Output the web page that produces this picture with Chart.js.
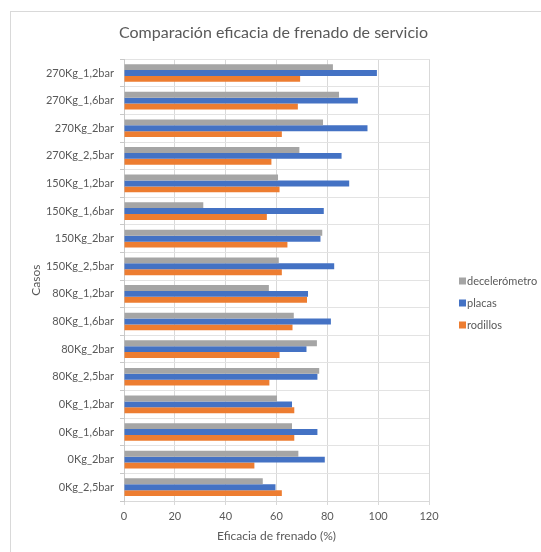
<!DOCTYPE html>
<html>
<head>
<meta charset="utf-8">
<script src="https://cdn.jsdelivr.net/npm/chart.js@4"></script>
<style>
  html, body { margin: 0; padding: 0; background: #fff; }
  #wrap { position: relative; width: 541px; height: 552px; }
  #frame { position: absolute; left: 10px; top: 11px; width: 540px; height: 545px; border: 1px solid #D9D9D9; box-sizing: border-box; }
  canvas { position: absolute; left: 0; top: 0; }
</style>
</head>
<body>
<div id="wrap">
  <div id="frame"></div>
  <canvas id="brakeChart" width="541" height="552"></canvas>
</div>
<script>
// casos, de arriba hacia abajo
const casos = [
    '270Kg_1,2bar', '270Kg_1,6bar', '270Kg_2bar', '270Kg_2,5bar',
    '150Kg_1,2bar', '150Kg_1,6bar', '150Kg_2bar', '150Kg_2,5bar',
    '80Kg_1,2bar', '80Kg_1,6bar', '80Kg_2bar', '80Kg_2,5bar',
    '0Kg_1,2bar', '0Kg_1,6bar', '0Kg_2bar', '0Kg_2,5bar'
];

const decelerometro = [82.2, 84.6, 78.3, 69.0, 60.6, 31.2, 78.0, 60.9, 57.0, 66.8, 75.9, 76.8, 60.2, 66.1, 68.6, 54.6];
const placas        = [99.5, 92.0, 95.8, 85.6, 88.6, 78.6, 77.3, 82.7, 72.4, 81.4, 71.8, 76.1, 66.1, 76.1, 79.0, 59.6];
const rodillos      = [69.3, 68.4, 62.1, 58.0, 61.2, 56.2, 64.3, 62.1, 72.0, 66.3, 61.2, 57.2, 67.0, 67.0, 51.3, 62.1];

const xTicks = [0, 20, 40, 60, 80, 100, 120];

const fontFamily = 'Lato, "Open Sans", sans-serif';
const textColor = '#595959';

// leyenda a la derecha, como en Excel
const sideLegend = {
    id: 'sideLegend',
    afterDraw(chart) {
        const ctx = chart.ctx;
        ctx.save();
        ctx.font = '11px ' + fontFamily;
        ctx.textBaseline = 'middle';
        chart.data.datasets.forEach(function(ds, i) {
            const y = 281 + i * 22;
            ctx.fillStyle = ds.backgroundColor;
            ctx.fillRect(459, y - 3.5, 7, 7);
            ctx.fillStyle = textColor;
            ctx.fillText(ds.label, 467, y);
        });
        ctx.restore();
    }
};

document.addEventListener('DOMContentLoaded', function() {
    const ctx = document.getElementById('brakeChart').getContext('2d');

    const chartData = {
        labels: casos,
        datasets: [
            { label: 'decelerómetro', data: decelerometro, backgroundColor: '#A5A5A5' },
            { label: 'placas', data: placas, backgroundColor: '#4472C4' },
            { label: 'rodillos', data: rodillos, backgroundColor: '#ED7D31' },
        ],
    };

    const chartOptions = {
        indexAxis: 'y',
        responsive: false,
        animation: false,
        datasets: {
            bar: { categoryPercentage: 0.64, barPercentage: 1.0 }
        },
        layout: { padding: { left: 6, right: 0, top: 0, bottom: 9 } },
        plugins: {
            legend: { display: false },
            tooltip: { enabled: false },
            title: {
                display: true,
                text: 'Comparación eficacia de frenado de servicio',
                color: textColor,
                font: { family: fontFamily, size: 16, weight: 'normal' },
                padding: { top: 23, bottom: 17 },
            },
        },
        scales: {
            x: {
                min: 0,
                max: 120,
                afterBuildTicks: function(scale) {
                    scale.ticks = xTicks.map(function(v) { return { value: v }; });
                },
                afterFit: function(scale) { scale.height = 42; },
                grid: { color: '#D9D9D9', tickLength: 4, drawTicks: true },
                border: { color: '#D9D9D9' },
                ticks: { color: textColor, padding: 5, font: { family: fontFamily, size: 11 } },
                title: {
                    display: true,
                    text: 'Eficacia de frenado (%)',
                    color: textColor,
                    font: { family: fontFamily, size: 12 },
                    padding: { top: 0, bottom: 0 },
                },
            },
            y: {
                afterFit: function(scale) { scale.width = 118; },
                grid: { color: '#E3E3E3', tickLength: 4, tickColor: '#C8C8C8', offset: true },
                border: { color: '#C8C8C8' },
                ticks: { color: textColor, padding: 6, autoSkip: false, font: { family: fontFamily, size: 11 } },
                title: {
                    display: true,
                    text: 'Casos',
                    color: textColor,
                    font: { family: fontFamily, size: 12 },
                    padding: { top: 23, bottom: 0 },
                },
            },
            // espacio vacío a la derecha para la leyenda
            legendSpace: {
                type: 'linear',
                axis: 'y',
                position: 'right',
                display: true,
                afterFit: function(scale) { scale.width = 112; },
                grid: { display: false, drawTicks: false },
                border: { display: false },
                ticks: { display: false },
            },
        },
    };

    new Chart(ctx, {
        type: 'bar',
        data: chartData,
        options: chartOptions,
        plugins: [sideLegend],
    });
});
</script>
</body>
</html>
